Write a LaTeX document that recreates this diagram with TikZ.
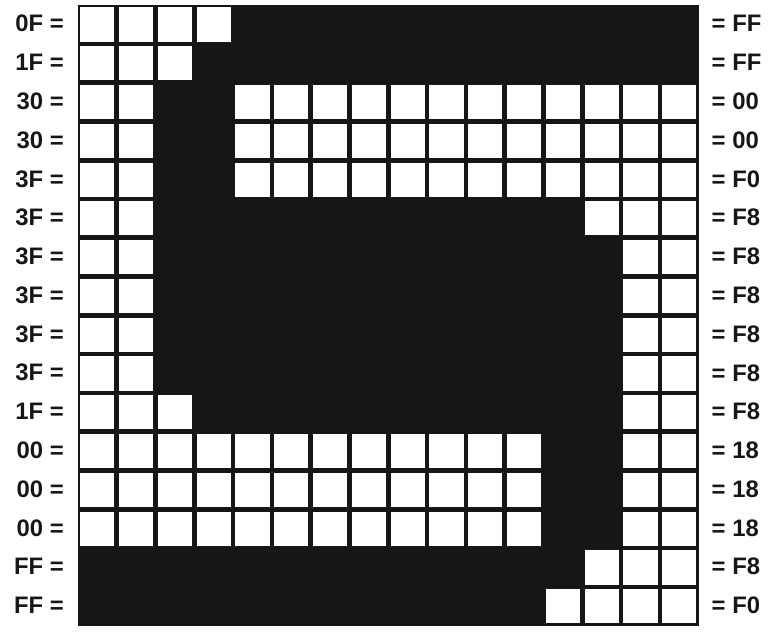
\documentclass[tikz,border=0pt]{standalone}
\usepackage{fontspec}
\setmainfont{Liberation Sans}
\usepackage{tikz}
\usetikzlibrary{positioning}
\definecolor{ink}{RGB}{22,22,22}

\begin{document}
\begin{tikzpicture}[
        lbl/.style={font=\fontsize{17.5}{20}\selectfont\bfseries, text=ink, inner sep=0pt},
        pixel/.style={fill=white}
    ]
        \useasboundingbox (-2.01,0.13) rectangle (18.02,-16.21);
        % the 16x16 character cell
        \fill[ink] (0,0) rectangle (16,-16);
        % white squares = bits that are 0
        \foreach \r/\cols in {0/{0,1,2,3}, 1/{0,1,2},
                2/{0,1,4,5,6,7,8,9,10,11,12,13,14,15},
                3/{0,1,4,5,6,7,8,9,10,11,12,13,14,15},
                4/{0,1,4,5,6,7,8,9,10,11,12,13,14,15},
                5/{0,1,13,14,15}, 6/{0,1,14,15}, 7/{0,1,14,15},
                8/{0,1,14,15}, 9/{0,1,14,15}, 10/{0,1,2,14,15},
                11/{0,1,2,3,4,5,6,7,8,9,10,11,14,15},
                12/{0,1,2,3,4,5,6,7,8,9,10,11,14,15},
                13/{0,1,2,3,4,5,6,7,8,9,10,11,14,15},
                14/{13,14,15}, 15/{12,13,14,15}}
            \foreach \c in \cols
                \fill[pixel] (\c+0.06,-\r-0.94) rectangle (\c+0.94,-\r-0.06);
        % byte values
        \foreach \r/\lft/\rgt in {0/0F/FF, 1/1F/FF, 2/30/00, 3/30/00, 4/3F/F0,
                5/3F/F8, 6/3F/F8, 7/3F/F8, 8/3F/F8, 9/3F/F8, 10/1F/F8,
                11/00/18, 12/00/18, 13/00/18, 14/FF/F8, 15/FF/F0} {
            \node[lbl, anchor=east] (left\r) at (-0.36,-\r-0.48) {\lft\ =};
            \node[lbl, anchor=west] (right\r) at (16.33,-\r-0.48) {= \rgt};
        }
    \end{tikzpicture}
\end{document}
